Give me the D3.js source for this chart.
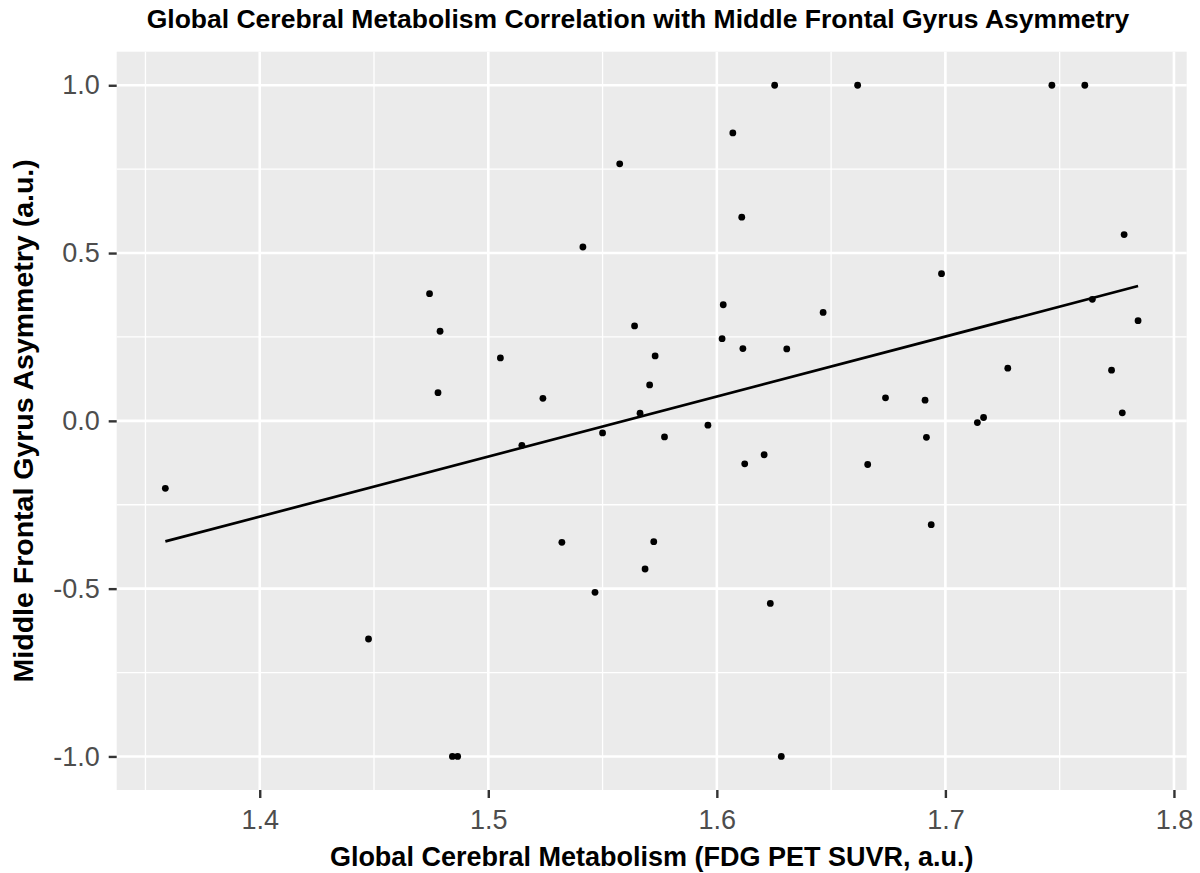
<!DOCTYPE html>
<html>
<head>
<meta charset="utf-8">
<script src="https://cdn.jsdelivr.net/npm/d3@7"></script>
<style>
  body { margin: 0; background: #fff; }
  text { font-family: "Liberation Sans", Arial, sans-serif; }
</style>
</head>
<body>
<div id="chart"></div>
<script>
// values
const suvr = [1.3587, 1.4476, 1.4743, 1.4780, 1.4789, 1.4843, 1.4866, 1.5053, 1.5147, 1.5239,
    1.5322, 1.5414, 1.5467, 1.5500, 1.5575, 1.5640, 1.5664, 1.5686, 1.5706, 1.5724,
    1.5730, 1.5771, 1.5961, 1.6023, 1.6028, 1.6070, 1.6109, 1.6114, 1.6122, 1.6207,
    1.6234, 1.6253, 1.6282, 1.6306, 1.6465, 1.6616, 1.6660, 1.6738, 1.6911, 1.6917,
    1.6938, 1.6983, 1.7140, 1.7167, 1.7273, 1.7466, 1.7610, 1.7643, 1.7727, 1.7774,
    1.7782, 1.7843]
const asym = [-0.201, -0.650, 0.379, 0.084, 0.267, -1.0, -1.0, 0.1875, -0.073, 0.067,
    -0.362, 0.518, -0.511, -0.036, 0.766, 0.283, 0.023, -0.4415, 0.107, -0.360,
    0.1935, -0.048, -0.013, 0.245, 0.346, 0.858, 0.607, 0.2153, -0.128, -0.101,
    -0.544, 1.0, -1.0, 0.2143, 0.323, 1.0, -0.130, 0.0685, 0.0615, -0.049,
    -0.3095, 0.4385, -0.005, 0.010, 0.157, 1.0, 1.0, 0.362, 0.151, 0.024,
    0.555, 0.2986]
const xTicks = [1.4, 1.5, 1.6, 1.7, 1.8]
const xMinor = [1.35, 1.45, 1.55, 1.65, 1.75]
const yTicks = [-1.0, -0.5, 0.0, 0.5, 1.0]
const yMinor = [-0.75, -0.25, 0.25, 0.75]

const title = "Global Cerebral Metabolism Correlation with Middle Frontal Gyrus Asymmetry"
const xTitle = "Global Cerebral Metabolism (FDG PET SUVR, a.u.)"
const yTitle = "Middle Frontal Gyrus Asymmetry (a.u.)"

const width = 1200
const height = 873
const panel = {left: 116.7, right: 1186.7, top: 51.7, bottom: 790}

const data = suvr.map((s, i) => ({x: s, y: asym[i]}))

// ggplot style 5% expansion
const xExt = d3.extent(suvr)
const xPad = (xExt[1] - xExt[0]) * 0.05
const x = d3.scaleLinear()
    .domain([xExt[0] - xPad, xExt[1] + xPad])
    .range([panel.left, panel.right])
const y = d3.scaleLinear()
    .domain([-1.1, 1.1])
    .range([panel.bottom, panel.top])

const svg = d3.select("#chart")
    .append("svg")
    .attr("width", width)
    .attr("height", height)

svg.append("rect")
    .attr("x", panel.left)
    .attr("y", panel.top)
    .attr("width", panel.right - panel.left)
    .attr("height", panel.bottom - panel.top)
    .attr("fill", "#ebebeb")

// minor grid
svg.append("g").selectAll("line")
    .data(xMinor)
    .join("line")
        .attr("x1", d => x(d)).attr("x2", d => x(d))
        .attr("y1", panel.top).attr("y2", panel.bottom)
        .attr("stroke", "#fff").attr("stroke-width", 1.3)
svg.append("g").selectAll("line")
    .data(yMinor)
    .join("line")
        .attr("x1", panel.left).attr("x2", panel.right)
        .attr("y1", d => y(d)).attr("y2", d => y(d))
        .attr("stroke", "#fff").attr("stroke-width", 1.3)

// major grid
svg.append("g").selectAll("line")
    .data(xTicks)
    .join("line")
        .attr("x1", d => x(d)).attr("x2", d => x(d))
        .attr("y1", panel.top).attr("y2", panel.bottom)
        .attr("stroke", "#fff").attr("stroke-width", 2.6)
svg.append("g").selectAll("line")
    .data(yTicks)
    .join("line")
        .attr("x1", panel.left).attr("x2", panel.right)
        .attr("y1", d => y(d)).attr("y2", d => y(d))
        .attr("stroke", "#fff").attr("stroke-width", 2.6)

// axes
const xAxis = svg.append("g")
    .attr("transform", "translate(0," + panel.bottom + ")")
    .call(d3.axisBottom(x).tickValues(xTicks).tickSize(8).tickPadding(12).tickFormat(d3.format(".1f")))
const yAxis = svg.append("g")
    .attr("transform", "translate(" + panel.left + ",0)")
    .call(d3.axisLeft(y).tickValues(yTicks).tickSize(8).tickPadding(9).tickFormat(d3.format(".1f")))

;[xAxis, yAxis].forEach(a => {
    a.select(".domain").remove()
    a.selectAll(".tick line").attr("stroke", "#333").attr("stroke-width", 2.4)
    a.selectAll(".tick text")
        .attr("fill", "#4d4d4d")
        .style("font-size", "27px")
        .style("font-family", "'Liberation Sans', Arial, sans-serif")
})
yAxis.selectAll(".tick text").text(d => d3.format(".1f")(d).replace("−", "-"))

// least squares fit, like geom_smooth(method = "lm")
const mx = d3.mean(suvr)
const my = d3.mean(asym)
const slope = d3.sum(data, d => (d.x - mx) * (d.y - my)) / d3.sum(data, d => (d.x - mx) ** 2)
const intercept = my - slope * mx
const fit = xExt.map(v => ({x: v, y: intercept + slope * v}))

svg.append("path")
    .datum(fit)
    .attr("fill", "none")
    .attr("stroke", "#000")
    .attr("stroke-width", 2.7)
    .attr("d", d3.line().x(d => x(d.x)).y(d => y(d.y)))

svg.append("g").selectAll("circle")
    .data(data)
    .join("circle")
        .attr("cx", d => x(d.x))
        .attr("cy", d => y(d.y))
        .attr("r", 3.4)
        .attr("fill", "#000")

// titles
svg.append("text")
    .attr("x", 638)
    .attr("y", 28)
    .attr("text-anchor", "middle")
    .style("font-size", "26.5px")
    .style("font-weight", "bold")
    .text(title)

svg.append("text")
    .attr("x", (panel.left + panel.right) / 2)
    .attr("y", 866)
    .attr("text-anchor", "middle")
    .style("font-size", "27px")
    .style("font-weight", "bold")
    .text(xTitle)

svg.append("text")
    .attr("transform", "translate(33," + ((panel.top + panel.bottom) / 2) + ") rotate(-90)")
    .attr("text-anchor", "middle")
    .style("font-size", "28.5px")
    .style("font-weight", "bold")
    .text(yTitle)
</script>
</body>
</html>
